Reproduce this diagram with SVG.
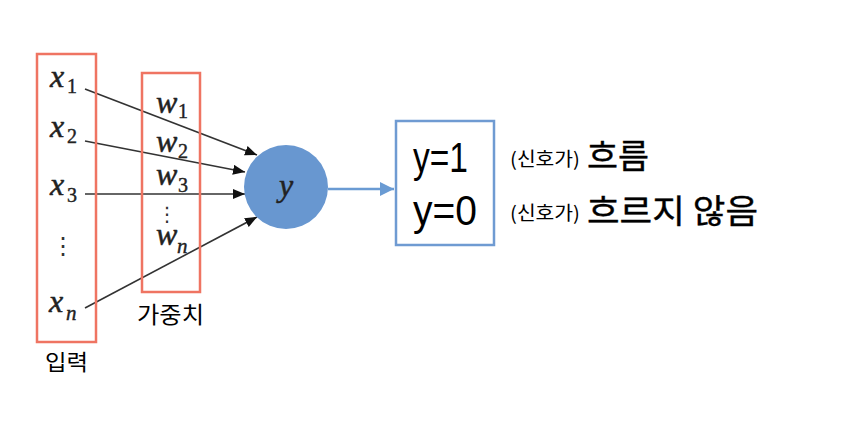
<svg xmlns="http://www.w3.org/2000/svg" width="850" height="446" viewBox="0 0 850 446">
<defs>
<style>
.redbox{fill:none;stroke:#EF7462;stroke-width:2.5}
.math{font-family:"Liberation Serif","DejaVu Serif",serif;font-style:italic;font-size:32px;fill:#222;stroke:#222;stroke-width:0.5}
.sub{font-family:"Liberation Serif","DejaVu Serif",serif;font-size:20px;fill:#222;stroke:#222;stroke-width:0.4}
.subi{font-family:"Liberation Serif","DejaVu Serif",serif;font-style:italic;font-size:21px;fill:#222;stroke:#222;stroke-width:0.4}
.dots{font-family:"DejaVu Sans",sans-serif;fill:#333}
.kr{font-family:"Noto Sans CJK KR","Noto Sans",sans-serif;fill:#000}
.krb{font-family:"Noto Sans CJK KR","Noto Sans",sans-serif;fill:#000;stroke:#000;stroke-width:0.35}
.big{font-family:"Liberation Sans","Noto Sans CJK KR",sans-serif;fill:#000}
.conn{stroke:#333;stroke-width:1.6;fill:none;marker-end:url(#ah)}
</style>
<marker id="ah" viewBox="0 0 12 10" refX="12" refY="5" markerWidth="12" markerHeight="10" markerUnits="userSpaceOnUse" orient="auto">
<path d="M0,0 L12,5 L0,10 Z" fill="#111"/>
</marker>
<marker id="ahb" viewBox="0 0 14 14" refX="14" refY="7" markerWidth="14" markerHeight="14" markerUnits="userSpaceOnUse" orient="auto">
<path d="M0,0 L14,7 L0,14 Z" fill="#6A9BD3"/>
</marker>
</defs>
<rect width="850" height="446" fill="#fff"/>

<g id="connectors">
<line class="conn" x1="85" y1="89" x2="257" y2="155"/>
<line class="conn" x1="85" y1="141" x2="245" y2="172"/>
<line class="conn" x1="85" y1="194" x2="245" y2="194"/>
<line class="conn" x1="85" y1="308" x2="257" y2="217"/>
<line x1="328" y1="189" x2="394" y2="189" stroke="#6A9BD3" stroke-width="2.5" marker-end="url(#ahb)"/>
</g>

<g id="inputs">
<rect class="redbox" x="37" y="54" width="59" height="288"/>
<text class="math" x="50" y="87">x</text><text class="sub" x="67" y="93">1</text>
<text class="math" x="50" y="137">x</text><text class="sub" x="67" y="143">2</text>
<text class="math" x="50" y="195">x</text><text class="sub" x="67" y="202">3</text>
<text class="dots" x="63" y="254" font-size="24" text-anchor="middle">⋮</text>
<text class="math" x="49" y="312">x</text><text class="subi" x="66" y="320">n</text>
<text class="kr" x="45" y="370" font-size="22" textLength="43" lengthAdjust="spacingAndGlyphs">입력</text>
</g>

<g id="weights">
<rect class="redbox" x="142" y="73" width="58" height="219"/>
<text class="math" x="156" y="113">w</text><text class="sub" x="178" y="118">1</text>
<text class="math" x="156" y="152">w</text><text class="sub" x="178" y="158">2</text>
<text class="math" x="156" y="185">w</text><text class="sub" x="178" y="192">3</text>
<text class="dots" x="167" y="221" font-size="20" text-anchor="middle">⋮</text>
<text class="math" x="156" y="245">w</text><text class="subi" x="177" y="253">n</text>
<text class="kr" x="137" y="323" font-size="23" textLength="67" lengthAdjust="spacingAndGlyphs">가중치</text>
</g>

<g id="neuron">
<circle cx="286" cy="187" r="42" fill="#6897D0"/>
<text class="math" x="286" y="196" text-anchor="middle" font-size="30">y</text>
</g>

<g id="output">
<rect x="396" y="121" width="98" height="124" fill="none" stroke="#6F9BD2" stroke-width="2.5"/>
<text class="big" x="413" y="172" font-size="43" textLength="55" lengthAdjust="spacingAndGlyphs">y=1</text>
<text class="big" x="413" y="225" font-size="43" textLength="64" lengthAdjust="spacingAndGlyphs">y=0</text>
</g>

<g id="labels">
<text class="kr" x="510" y="166" font-size="19" textLength="70" lengthAdjust="spacingAndGlyphs">(신호가)</text>
<text class="krb" x="587" y="168" font-size="33" textLength="62" lengthAdjust="spacingAndGlyphs">흐름</text>
<text class="kr" x="510" y="220" font-size="19" textLength="70" lengthAdjust="spacingAndGlyphs">(신호가)</text>
<text class="krb" x="587" y="223" font-size="33" textLength="171" lengthAdjust="spacingAndGlyphs">흐르지 않음</text>
</g>
</svg>
